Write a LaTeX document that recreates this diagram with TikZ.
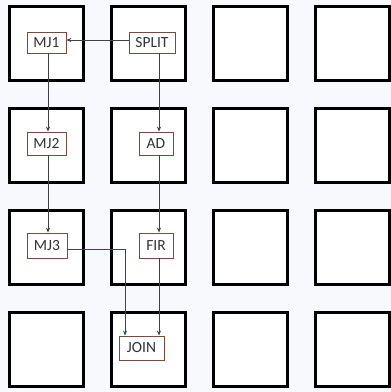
\documentclass[tikz,border=0pt]{standalone}
\usepackage{fontspec}
\setmainfont{Carlito}
\usetikzlibrary{arrows.meta}
\definecolor{boxbrown}{HTML}{7A4A3E}
\definecolor{linegray}{HTML}{404040}
\definecolor{lineteal}{HTML}{24505C}
\definecolor{bg}{HTML}{F8F9FC}
\begin{document}
\begin{tikzpicture}[x=1pt,y=-1pt,
  tile/.style={draw=black,line width=3pt,fill=white,minimum width=74pt,minimum height=74pt,inner sep=0pt},
  task/.style={draw=boxbrown,line width=0.8pt,fill=white,inner sep=0pt,font=\fontsize{15.5}{17}\selectfont,text=black!80},
  conn/.style={draw=linegray,line width=0.8pt,-{Stealth[length=5pt,width=4pt]}}]
\useasboundingbox (0,0) rectangle (391,392);
\fill[bg] (0,0) rectangle (391,392);
% tiles
\foreach \c [count=\i] in {0,1,2,3}{
  \foreach \r [count=\j] in {0,1,2,3}{
    \node[tile] (t\i\j) at ({46.5+102*\c},{43.5+102*\r}) {};
  }
}
% tasks
\node[task,minimum width=39pt,minimum height=21pt] (mj1) at (46.5,42.5) {MJ1};
\node[task,minimum width=46pt,minimum height=21pt] (split) at (152,42.5) {SPLIT};
\node[task,minimum width=39pt,minimum height=23pt] (mj2) at (46.5,143.5) {MJ2};
\node[task,minimum width=34pt,minimum height=23pt] (ad) at (156,143.5) {AD};
\node[task,minimum width=40pt,minimum height=25pt] (mj3) at (47,245.5) {MJ3};
\node[task,minimum width=34pt,minimum height=25pt] (fir) at (156,245.5) {FIR};
\node[task,minimum width=45pt,minimum height=24pt] (join) at (141.5,348) {JOIN};
% connectors
\draw[conn] (split.west |- 0,40) -- (mj1.east |- 0,40);
\draw[conn] (mj1.south -| 48,0) -- (mj2.north -| 48,0);
\draw[conn] (mj2.south -| 48,0) -- (mj3.north -| 48,0);
\draw[conn] (split.south -| 159,0) -- (ad.north -| 159,0);
\draw[conn] (ad.south -| 159,0) -- (fir.north -| 159,0);
\draw[conn] (fir.south -| 159,0) -- (join.north -| 159,0);
\draw[conn,draw=lineteal] (mj3.east |- 0,249) -| (join.north -| 125,0);
\end{tikzpicture}
\end{document}
